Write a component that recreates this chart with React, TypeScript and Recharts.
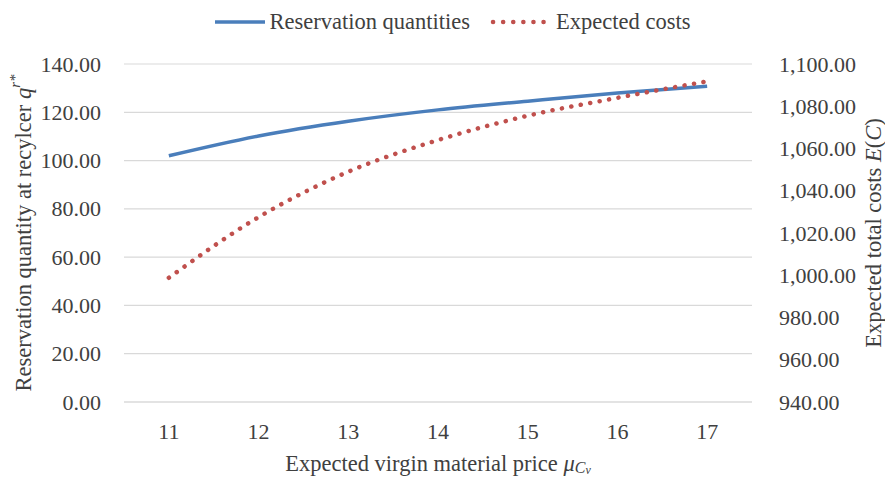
import React from 'react';
import { LineChart, Line, XAxis, YAxis, CartesianGrid, Legend, Label } from 'recharts';

const categories = ['11', '12', '13', '14', '15', '16', '17'];
const reservationQuantities = [102.0, 110.2, 116.3, 121.0, 124.6, 128.0, 130.8];
const expectedCosts = [998.8, 1027.5, 1049.0, 1064.0, 1075.5, 1084.0, 1091.8];
const leftTicks = [0, 20, 40, 60, 80, 100, 120, 140];
const rightTicks = [940, 960, 980, 1000, 1020, 1040, 1060, 1080, 1100];

const data = categories.map((c, i) => ({
  x: c,
  q: reservationQuantities[i],
  cost: expectedCosts[i],
}));

const FONT = 'Liberation Serif, DejaVu Serif, serif';
const TEXT = '#404040';
const BLUE = '#4A7EBB';
const RED = '#C0504D';
const TICK_SIZE = 22;
const TITLE_SIZE = 22.5;

const fmtLeft = (v: number) => v.toFixed(2);
const fmtRight = (v: number) => v.toLocaleString('en-US', { minimumFractionDigits: 2, maximumFractionDigits: 2 });

const makeTick = (fmt: (v: any) => string, anchor: string, dy: number) => (p: any) => (
  <text x={p.x} y={p.y} dy={dy} textAnchor={anchor} fill={TEXT} fontFamily={FONT} fontSize={TICK_SIZE}>
    {fmt(p.payload.value)}
  </text>
);

const LeftTitle = (props: any) => {
  const vb = props.viewBox || { x: 0, y: 0, width: 0, height: 0 };
  const cx = vb.x + 23;
  const cy = vb.y + vb.height / 2;
  return (
    <text x={cx} y={cy} transform={`rotate(-90, ${cx}, ${cy})`} textAnchor="middle" dominantBaseline="central" fill={TEXT} fontFamily={FONT} fontSize={TITLE_SIZE}>
      Reservation quantity at recylcer <tspan fontStyle="italic">q</tspan>
      <tspan fontStyle="italic" fontSize={15} dy={-8}>r*</tspan>
    </text>
  );
};

const RightTitle = (props: any) => {
  const vb = props.viewBox || { x: 0, y: 0, width: 0, height: 0 };
  const cx = vb.x + 121;
  const cy = vb.y + vb.height / 2;
  return (
    <text x={cx} y={cy} transform={`rotate(-90, ${cx}, ${cy})`} textAnchor="middle" dominantBaseline="central" fill={TEXT} fontFamily={FONT} fontSize={TITLE_SIZE}>
      Expected total costs <tspan fontStyle="italic">E</tspan>(<tspan fontStyle="italic">C</tspan>)
    </text>
  );
};

const XTitle = (props: any) => {
  const vb = props.viewBox || { x: 0, y: 0, width: 0, height: 0 };
  const cx = vb.x + vb.width / 2;
  const cy = vb.y + 61;
  return (
    <text x={cx} y={cy} textAnchor="middle" dominantBaseline="central" fill={TEXT} fontFamily={FONT} fontSize={TITLE_SIZE}>
      Expected virgin material price <tspan fontStyle="italic">μ</tspan>
      <tspan fontStyle="italic" fontSize={16} dy={4}>C</tspan>
      <tspan fontStyle="italic" fontSize={12} dy={3}>v</tspan>
    </text>
  );
};

const renderLegend = () => (
  <div style={{ height: 64, width: '100%', position: 'relative' }}>
    <div style={{ height: 44, display: 'flex', alignItems: 'center', justifyContent: 'center', paddingLeft: 19, fontFamily: FONT, fontSize: TITLE_SIZE, color: TEXT }}>
      <svg width={52} height={10} style={{ marginRight: 4 }}>
        <line x1={1} y1={5} x2={51} y2={5} stroke={BLUE} strokeWidth={3.5} />
      </svg>
      <span style={{ marginRight: 20 }}>Reservation quantities</span>
      <svg width={60} height={10} style={{ marginRight: 6 }}>
        <line x1={3} y1={5} x2={58} y2={5} stroke={RED} strokeWidth={4.5} strokeDasharray="0.1 10" strokeLinecap="round" />
      </svg>
      <span>Expected costs</span>
    </div>
  </div>
);

export default function App() {
  return (
    <div style={{ position: 'absolute', left: 0, top: 0, background: '#fff', fontFamily: FONT }}>
      <LineChart width={885} height={479} data={data} margin={{ top: 0, right: 0, bottom: 0, left: 0 }}>
        <CartesianGrid vertical={false} stroke="#d9d9d9" strokeWidth={1.2} yAxisId="left" />
        <Legend verticalAlign="top" content={renderLegend} />
        <XAxis dataKey="x" scale="band" height={77} axisLine={{ stroke: '#d9d9d9', strokeWidth: 1.2 }} tickLine={false} tickMargin={14}
          tick={makeTick((v) => String(v), 'middle', 17)}>
          <Label content={XTitle} />
        </XAxis>
        <YAxis yAxisId="left" width={124} domain={[0, 140]} ticks={leftTicks} axisLine={false} tickLine={false} tickMargin={17}
          tick={makeTick(fmtLeft, 'end', 7.5)} interval={0}>
          <Label content={LeftTitle} />
        </YAxis>
        <YAxis yAxisId="right" orientation="right" width={133} domain={[940, 1100]} ticks={rightTicks} axisLine={false} tickLine={false} tickMargin={21}
          tick={makeTick(fmtRight, 'start', 7.5)} interval={0}>
          <Label content={RightTitle} />
        </YAxis>
        <Line yAxisId="left" type="monotone" dataKey="q" stroke={BLUE} strokeWidth={3.5} dot={false} isAnimationActive={false} />
        <Line yAxisId="right" type="monotone" dataKey="cost" stroke={RED} strokeWidth={4.5} strokeDasharray="0.1 9.5" strokeLinecap="round" dot={false} isAnimationActive={false} />
      </LineChart>
    </div>
  );
}
